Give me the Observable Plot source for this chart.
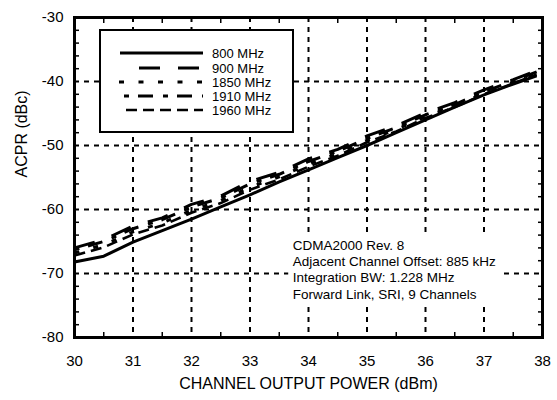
<!DOCTYPE html>
<html>
<head>
<meta charset="utf-8">
<script src="https://cdn.jsdelivr.net/npm/d3@7"></script>
<script src="https://cdn.jsdelivr.net/npm/@observablehq/plot@0.6"></script>
<style>
  html, body { margin: 0; padding: 0; background: #fff; }
  #chart { position: relative; width: 557px; height: 400px; }
  svg { font-family: "Liberation Sans", Arial, sans-serif; }
</style>
</head>
<body>
<div id="chart"></div>
<script>
// ---- data ----
const powerDbm = [30, 30.5, 31, 31.5, 32, 32.5, 33, 33.5, 34, 34.5, 35, 35.5, 36, 36.5, 37, 37.5, 37.9];
const acpr800  = [-68.2, -67.3, -65.1, -63.3, -61.5, -59.6, -57.7, -55.7, -53.8, -51.9, -50.0, -48.0, -46.0, -44.0, -42.1, -40.4, -39.1];
const acpr900  = [-66.0, -64.7, -62.6, -61.3, -59.2, -57.9, -55.6, -54.2, -52.1, -50.6, -48.5, -46.9, -44.9, -43.3, -41.3, -39.7, -38.3];
const acpr1850 = [-66.8, -65.5, -63.5, -62.1, -60.1, -58.6, -56.5, -54.9, -52.9, -51.3, -49.2, -47.5, -45.5, -43.8, -41.8, -40.1, -38.7];
const acpr1910 = [-66.3, -65.0, -63.0, -61.6, -59.6, -58.2, -56.0, -54.5, -52.5, -50.9, -48.9, -47.2, -45.2, -43.6, -41.6, -39.9, -38.5];
const acpr1960 = [-67.2, -65.9, -63.9, -62.5, -60.5, -59.0, -56.9, -55.3, -53.3, -51.6, -49.5, -47.8, -45.7, -44.0, -42.0, -40.3, -38.9];
const seriesNames = ["800 MHz", "900 MHz", "1850 MHz", "1910 MHz", "1960 MHz"];
const seriesValues = [acpr800, acpr900, acpr1850, acpr1910, acpr1960];
const xTicks = [30, 31, 32, 33, 34, 35, 36, 37, 38];
const yTicks = [-80, -70, -60, -50, -40, -30];
const xGrid = [31, 32, 33, 34, 35, 36, 37];
const yGrid = [-70, -60, -50, -40];
const xMinor = [30.5, 31.5, 32.5, 33.5, 34.5, 35.5, 36.5, 37.5];
const yMinor = [-78, -76, -74, -72, -68, -66, -64, -62, -58, -56, -54, -52, -48, -46, -44, -42, -38, -36, -34, -32];
const xLabel = "CHANNEL OUTPUT POWER (dBm)";
const yLabel = "ACPR (dBc)";
const noteLines = ["CDMA2000 Rev. 8", "Adjacent Channel Offset: 885 kHz", "Integration BW: 1.228 MHz", "Forward Link, SRI, 9 Channels"];

// ---- styles ----
const dashes = [null, "21,18", "5,14.5", "5,9,15,10", "11,6"];
const widths = [3, 3, 3, 3, 2.6];

const tables = seriesValues.map((vals, i) => powerDbm.map((x, j) => ({x, y: vals[j], s: seriesNames[i]})));

const lineMarks = tables.map((t, i) =>
  Plot.line(t, {x: "x", y: "y", stroke: "black", strokeWidth: widths[i],
    strokeDasharray: dashes[i] || undefined, strokeLinecap: "butt", curve: "linear"}));

const chart = Plot.plot({
  width: 557,
  height: 400,
  marginLeft: 74,
  marginRight: 15,
  marginTop: 17,
  marginBottom: 63,
  style: {fontFamily: "Liberation Sans, Arial, sans-serif", background: "white", overflow: "visible"},
  x: {domain: [30, 38]},
  y: {domain: [-80, -30]},
  marks: [
    Plot.ruleX(xGrid, {stroke: "black", strokeWidth: 2, strokeDasharray: "5,5"}),
    Plot.ruleY(yGrid, {stroke: "black", strokeWidth: 2, strokeDasharray: "5,5"}),
    Plot.axisX(xMinor, {anchor: "bottom", tickSize: -5, text: null, label: null, strokeWidth: 1.5}),
    Plot.axisX(xMinor, {anchor: "top", tickSize: -5, text: null, label: null, strokeWidth: 1.5}),
    Plot.axisY(yMinor, {anchor: "left", tickSize: -5, text: null, label: null, strokeWidth: 1.5}),
    Plot.axisY(yMinor, {anchor: "right", tickSize: -5, text: null, label: null, strokeWidth: 1.5}),
    Plot.axisX(xTicks, {anchor: "bottom", tickSize: 0, tickPadding: 18, fontSize: 15, label: null, fill: "black"}),
    Plot.axisY(yTicks, {anchor: "left", tickSize: 0, tickPadding: 11, fontSize: 15, label: null, fill: "black", tickFormat: d => String(d)}),
    Plot.text([xLabel], {frameAnchor: "bottom", dy: 51, text: d => d, fontSize: 16, fill: "black"}),
    Plot.text([yLabel], {frameAnchor: "left", dx: -53, rotate: -90, text: d => d, fontSize: 16, fill: "black"}),
    ...lineMarks,
    Plot.text([noteLines.join("\n")], {x: () => 33.73, y: () => -64.6, text: d => d, textAnchor: "start", lineAnchor: "top", lineHeight: 1.19, fontSize: 13.5, fill: "black", className: "note"}),
    Plot.frame({stroke: "black", strokeWidth: 3})
  ]
});

document.getElementById("chart").appendChild(chart);

const svg = d3.select(chart);

// white backing behind annotation (gridlines are interrupted there)
const noteG = svg.select("g.note");
if (!noteG.empty()) {
  const bb = noteG.node().getBBox();
  svg.insert("rect", "g.note")
    .attr("x", bb.x - 4).attr("y", bb.y - 2)
    .attr("width", bb.width + 8).attr("height", bb.height + 4)
    .attr("fill", "white");
}

// ---- legend box ----
const lg = svg.append("g").attr("class", "legend").attr("text-anchor", "start");
lg.append("rect").attr("x", 100).attr("y", 30).attr("width", 193).attr("height", 102)
  .attr("fill", "white").attr("stroke", "black").attr("stroke-width", 2);
const legendY = [53, 68, 82, 96, 110];
const legendX1 = [120, 139, 119, 124, 126];
seriesNames.forEach((name, i) => {
  lg.append("line").attr("x1", legendX1[i]).attr("x2", 203).attr("y1", legendY[i]).attr("y2", legendY[i])
    .attr("stroke", "black").attr("stroke-width", widths[i])
    .attr("stroke-dasharray", dashes[i]);
  lg.append("text").attr("x", 212).attr("y", legendY[i]).attr("dy", "0.35em")
    .attr("text-anchor", "start")
    .attr("font-size", 13).attr("fill", "black").text(name);
});
</script>
</body>
</html>
